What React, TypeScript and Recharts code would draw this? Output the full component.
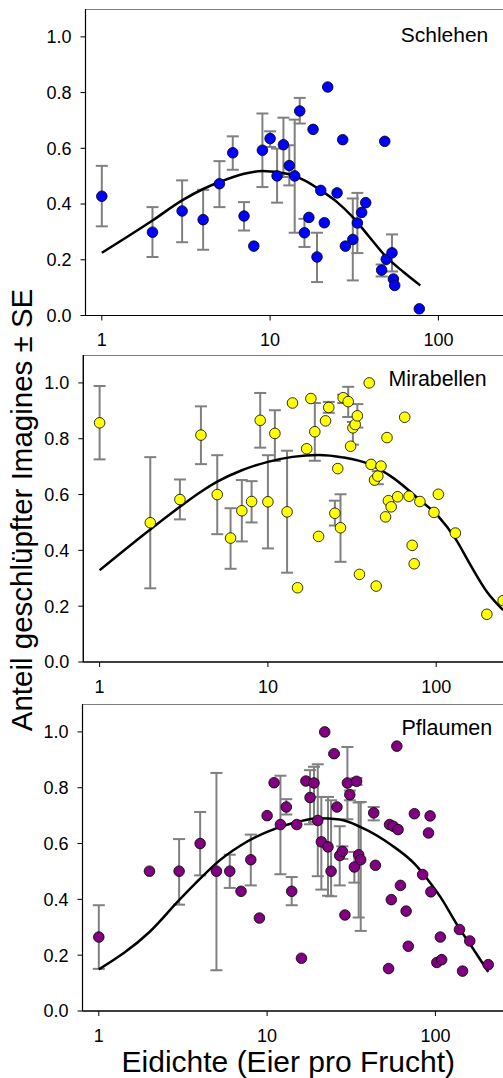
import { ErrorBar, ReferenceArea, Scatter, ScatterChart, XAxis, YAxis } from 'recharts';

const xTicks = [1, 10, 100];
const yTicks = [0, 0.2, 0.4, 0.6, 0.8, 1.0];

// Schlehen
const schlehenX = [1, 2, 3, 4, 5, 6, 7, 8, 9, 10, 11, 12, 13, 14, 15, 16, 17, 18, 19, 20, 21, 22, 25, 27, 28, 31, 33, 35, 37, 46, 48, 49, 53, 54, 55, 77];
const schlehenY = [0.428, 0.299, 0.375, 0.344, 0.473, 0.584, 0.357, 0.249, 0.593, 0.635, 0.501, 0.613, 0.538, 0.501, 0.734, 0.297, 0.352, 0.668, 0.21, 0.449, 0.333, 0.82, 0.44, 0.631, 0.249, 0.273, 0.332, 0.37, 0.405, 0.163, 0.625, 0.202, 0.225, 0.131, 0.108, 0.024];
const schlehenHi = [0.537, 0.389, 0.485, 0.451, 0.554, 0.643, 0.407, null, 0.725, 0.661, 0.599, 0.71, 0.611, 0.703, 0.781, 0.347, null, null, 0.297, null, null, null, null, null, null, 0.42, 0.44, null, null, 0.183, null, null, 0.291, null, null, null];
const schlehenLo = [0.32, 0.21, 0.263, 0.236, 0.389, 0.523, 0.305, null, 0.461, 0.605, 0.405, 0.497, 0.467, 0.297, 0.689, 0.246, null, null, 0.12, null, null, null, null, null, null, 0.126, 0.224, null, null, 0.14, null, null, 0.158, null, null, null];
const schlehenCurveX = [1, 2, 3, 4, 5, 7, 9, 12.6, 16, 20, 25, 31, 39, 49, 62, 78];
const schlehenCurveY = [0.225, 0.341, 0.413, 0.454, 0.479, 0.509, 0.519, 0.509, 0.485, 0.449, 0.407, 0.353, 0.281, 0.21, 0.156, 0.108];

// Mirabellen
const mirabellenX = [1, 2, 3, 4, 5, 6, 7, 8, 9, 10, 11, 13, 14, 15, 17, 18, 19, 20, 22, 23, 25, 26, 27, 28, 30, 31, 32, 33, 34, 35, 40, 41, 43, 44, 45, 47, 50, 51, 52, 54, 59, 65, 69, 72, 74, 80, 97, 103, 130, 200, 250];
const mirabellenY = [0.857, 0.499, 0.582, 0.813, 0.6, 0.444, 0.542, 0.575, 0.866, 0.574, 0.819, 0.538, 0.928, 0.266, 0.764, 0.944, 0.825, 0.45, 0.864, 0.912, 0.533, 0.693, 0.481, 0.947, 0.933, 0.773, 0.839, 0.851, 0.882, 0.314, 1.0, 0.708, 0.652, 0.272, 0.666, 0.702, 0.52, 0.804, 0.578, 0.556, 0.592, 0.877, 0.594, 0.418, 0.352, 0.575, 0.536, 0.601, 0.462, 0.171, 0.22];
const mirabellenHi = [0.989, 0.734, 0.654, 0.916, 0.741, 0.551, 0.652, 0.648, 0.964, 0.741, 0.902, 0.757, null, null, null, null, 0.928, null, null, 0.932, 0.578, null, 0.601, 0.958, 0.986, null, 0.86, null, 0.924, null, null, null, null, null, 0.684, null, null, null, null, null, null, null, null, null, null, null, null, null, null, null, null];
const mirabellenLo = [0.726, 0.264, 0.511, 0.709, 0.458, 0.334, 0.432, 0.5, 0.768, 0.407, 0.72, 0.32, null, null, null, null, 0.721, null, null, 0.893, 0.489, null, 0.359, 0.928, 0.878, null, 0.779, null, 0.84, null, null, null, null, null, 0.637, null, null, null, null, null, null, null, null, null, null, null, null, null, null, null, null];
const mirabellenCurveX = [1, 2, 3, 4, 5, 7, 10, 14, 20, 28, 40, 56, 80, 103, 130, 160, 200, 250];
const mirabellenCurveY = [0.329, 0.475, 0.556, 0.61, 0.646, 0.687, 0.717, 0.735, 0.742, 0.733, 0.709, 0.658, 0.58, 0.522, 0.442, 0.347, 0.252, 0.186];

// Pflaumen
const pflaumenX = [1, 2, 3, 4, 5, 6, 7, 8, 9, 10, 11, 12, 13, 14, 15, 16, 17, 18, 19, 20, 21, 22, 23, 24, 25, 26, 27, 28, 29, 30, 31, 33, 34, 35, 36, 43, 44, 52.7, 53.4, 54.7, 56.2, 59, 60, 62, 67, 69, 75, 84, 91, 93, 94, 102, 107, 109, 139, 145, 160, 206];
const pflaumenY = [0.265, 0.501, 0.501, 0.6, 0.501, 0.501, 0.429, 0.542, 0.333, 0.7, 0.818, 0.668, 0.731, 0.429, 0.668, 0.189, 0.824, 0.765, 0.817, 0.683, 0.606, 1.0, 0.588, 0.501, 0.922, 0.731, 0.557, 0.572, 0.344, 0.817, 0.775, 0.516, 0.823, 0.56, 0.542, 0.71, 0.522, 0.152, 0.668, 0.399, 0.662, 0.949, 0.65, 0.45, 0.358, 0.232, 0.707, 0.489, 0.638, 0.699, 0.427, 0.174, 0.265, 0.184, 0.292, 0.143, 0.251, 0.166];
const pflaumenHi = [0.379, null, 0.616, 0.713, 0.853, 0.56, null, 0.632, null, null, null, 0.843, 0.759, 0.48, null, null, null, 0.863, 0.875, 0.884, 0.767, null, 0.767, 0.755, 0.925, null, 0.662, 0.59, null, 0.946, 0.79, 0.57, 0.835, 0.747, 0.749, 0.731, null, null, null, null, null, null, null, null, null, null, null, null, null, null, null, null, null, null, null, null, null, null];
const pflaumenLo = [0.151, null, 0.381, 0.486, 0.146, 0.441, null, 0.45, null, null, null, 0.49, 0.704, 0.379, null, null, null, 0.669, 0.677, 0.483, 0.435, null, 0.413, 0.411, 0.918, null, 0.45, 0.545, null, 0.687, 0.755, 0.46, 0.81, 0.335, 0.287, 0.683, null, null, null, null, null, null, null, null, null, null, null, null, null, null, null, null, null, null, null, null, null, null];
const pflaumenCurveX = [1, 2, 3, 4, 5, 7, 10, 15, 20, 27, 36, 55, 75, 94, 107, 139, 160, 206];
const pflaumenCurveY = [0.149, 0.283, 0.397, 0.474, 0.53, 0.594, 0.642, 0.677, 0.691, 0.686, 0.659, 0.594, 0.528, 0.456, 0.409, 0.295, 0.241, 0.14];

const FONT = '"Liberation Sans", Arial, sans-serif';
const CHART_W = 560;
const PLOT_W = 433.2;
const AXIS_H = 50;

function points(x: number[], y: number[], hi: (number | null)[], lo: (number | null)[]) {
  return x.map((v, i) => ({
    x: v,
    y: y[i],
    err: hi[i] == null || lo[i] == null ? undefined : [y[i] - (lo[i] as number), (hi[i] as number) - y[i]],
  }));
}

function curve(x: number[], y: number[]) {
  return x.map((v, i) => ({ x: v, y: y[i] }));
}

const panels = [
  { key: 's', color: '#0000ff', top: 8.5, left: 85.5, plotH: 306.5, data: points(schlehenX, schlehenY, schlehenHi, schlehenLo), line: curve(schlehenCurveX, schlehenCurveY) },
  { key: 'm', color: '#ffff00', top: 355, left: 83.3, plotH: 307, data: points(mirabellenX, mirabellenY, mirabellenHi, mirabellenLo), line: curve(mirabellenCurveX, mirabellenCurveY) },
  { key: 'p', color: '#800080', top: 703.5, left: 82.5, plotH: 307, data: points(pflaumenX, pflaumenY, pflaumenHi, pflaumenLo), line: curve(pflaumenCurveX, pflaumenCurveY) },
];

const tickStyle = { fill: '#000', fontSize: 18, fontFamily: FONT };

function Panel({ p }: { p: (typeof panels)[number] }) {
  return (
    <div style={{ position: 'absolute', left: 0, top: p.top }}>
      <ScatterChart
        width={CHART_W}
        height={p.plotH + AXIS_H}
        margin={{ top: 0, right: CHART_W - p.left - PLOT_W, bottom: 0, left: 0 }}
      >
        <XAxis
          type="number"
          dataKey="x"
          scale="log"
          domain={[0.8, 300]}
          allowDataOverflow
          ticks={xTicks}
          height={AXIS_H}
          tickSize={5}
          tickMargin={13}
          tick={tickStyle}
          stroke="#000"
        />
        <YAxis
          type="number"
          dataKey="y"
          domain={[0, 1.1]}
          ticks={yTicks}
          width={p.left}
          tickSize={5}
          tickMargin={9}
          tick={tickStyle}
          tickFormatter={(v: number) => v.toFixed(1)}
          stroke="#000"
        />
        <ReferenceArea x1={0.8} x2={300} y1={0} y2={1.1} fill="none" stroke="#000" strokeWidth={1.2} ifOverflow="visible" />
        <Scatter
          data={p.line}
          line={{ stroke: '#000', strokeWidth: 2.5 }}
          lineJointType="monotoneX"
          shape={() => <g />}
          isAnimationActive={false}
        />
        <Scatter
          data={p.data}
          isAnimationActive={false}
          shape={(s: any) => <circle cx={s.cx} cy={s.cy} r={5.3} fill={p.color} stroke="#000" strokeWidth={0.8} />}
        >
          <ErrorBar dataKey="err" direction="y" width={6} stroke="#808080" strokeWidth={2} />
        </Scatter>
      </ScatterChart>
    </div>
  );
}

export default function App() {
  return (
    <div style={{ position: 'absolute', left: 0, top: 0, width: 503, height: 1078, overflow: 'hidden', background: '#fff' }}>
      {panels.map((p) => (
        <Panel key={p.key} p={p} />
      ))}
      <svg width={503} height={1078} style={{ position: 'absolute', left: 0, top: 0, pointerEvents: 'none' }}>
        <g fontFamily={FONT} fill="#000">
          <text x={488.3} y={41.5} fontSize={21} textAnchor="end">Schlehen</text>
          <text x={486.7} y={385.7} fontSize={21.3} textAnchor="end">Mirabellen</text>
          <text x={492.3} y={735} fontSize={21.5} textAnchor="end">Pflaumen</text>
          <text x={288.3} y={1071.7} fontSize={30} textAnchor="middle">Eidichte (Eier pro Frucht)</text>
          <text transform="translate(32 510) rotate(-90)" fontSize={29.5} textAnchor="middle">Anteil geschlüpfter Imagines ± SE</text>
        </g>
      </svg>
    </div>
  );
}
